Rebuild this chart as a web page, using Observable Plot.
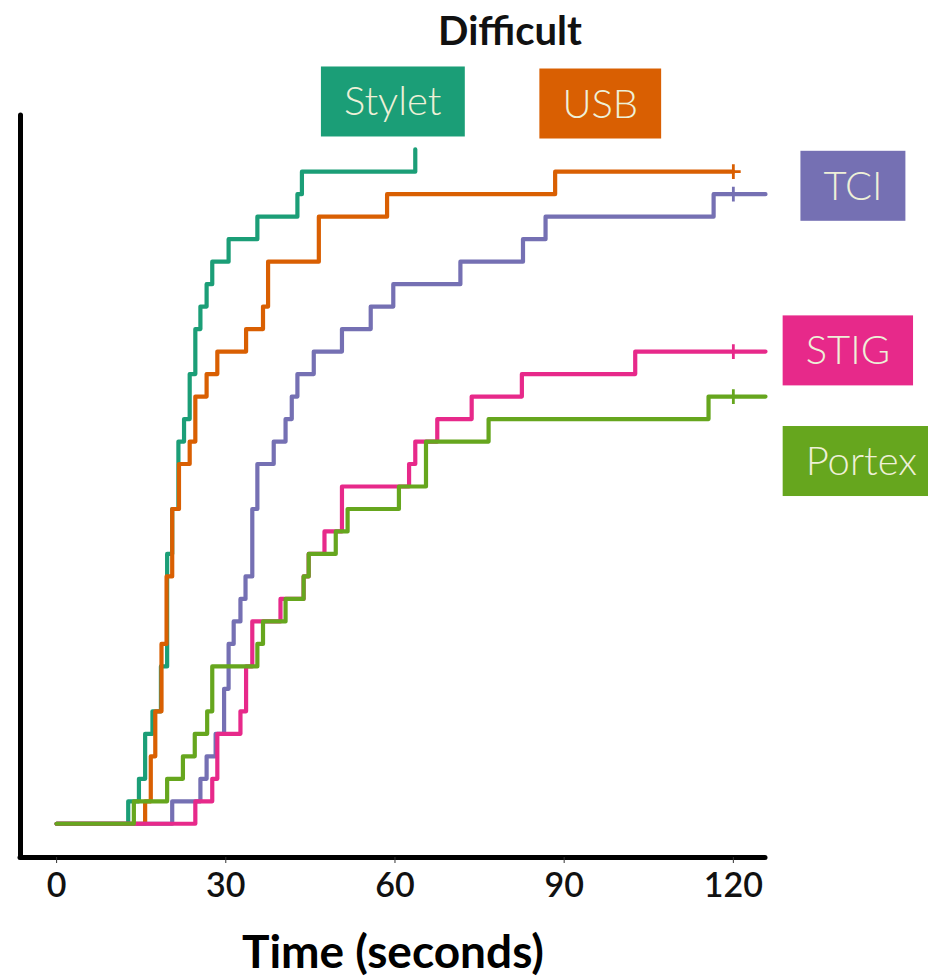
<!DOCTYPE html>
<html><head><meta charset="utf-8">
<script src="https://cdn.jsdelivr.net/npm/d3@7"></script>
<script src="https://cdn.jsdelivr.net/npm/@observablehq/plot@0.6"></script>
<style>body{margin:0;background:#fff;} #chart{width:928px;height:977px;overflow:hidden;}</style>
</head><body><div id="chart"></div>
<script>
// ---- data ----
const N = 30; // subjects per device
const seriesNames = ["Stylet", "USB", "TCI", "STIG", "Portex"];
const seriesColors = ["#1b9e77", "#d95f02", "#7570b3", "#e7298a", "#66a61e"];

const styletTime  = [0, 12.7, 14.6, 15.7, 17.0, 18.5, 19.6, 20.5, 21.6, 22.6, 23.6, 24.6, 25.5, 26.6, 27.6, 30.5, 35.6, 42.7, 43.5, 63.6];
const styletCount = [0, 1, 2, 4, 5, 7, 12, 14, 17, 18, 20, 22, 23, 24, 25, 26, 27, 28, 29, 30];

const usbTime  = [0, 15.7, 16.7, 17.5, 18.6, 19.5, 20.5, 21.7, 23.6, 24.6, 26.6, 28.5, 33.6, 36.6, 37.5, 46.5, 58.6, 88.4, 120];
const usbCount = [0, 1, 3, 5, 8, 11, 14, 16, 17, 19, 20, 21, 22, 23, 25, 27, 28, 29, 29];

const tciTime  = [0, 20.5, 25.5, 26.6, 28.2, 29.7, 30.5, 31.4, 32.6, 33.5, 34.7, 35.6, 38.5, 40.6, 41.7, 42.7, 45.6, 50.6, 55.7, 59.7, 71.6, 82.7, 86.7, 116.5, 125.7];
const tciCount = [0, 1, 2, 3, 4, 6, 8, 9, 10, 11, 14, 16, 17, 18, 19, 20, 21, 22, 23, 24, 25, 26, 27, 28, 28];

const stigTime  = [0, 24.6, 27.6, 28.5, 32.6, 33.6, 34.7, 39.7, 43.8, 44.7, 47.5, 50.6, 62.5, 63.6, 67.5, 73.6, 82.5, 102.6, 125.7];
const stigCount = [0, 1, 2, 4, 5, 7, 9, 10, 11, 12, 13, 15, 16, 17, 18, 19, 20, 21, 21];

const portexTime  = [0, 13.7, 19.6, 22.4, 24.5, 26.7, 27.6, 35.6, 36.6, 40.6, 43.8, 44.7, 49.5, 51.6, 60.7, 65.5, 76.6, 115.6, 125.7];
const portexCount = [0, 1, 2, 3, 4, 5, 7, 8, 9, 10, 11, 12, 13, 14, 15, 17, 18, 19, 19];

const censorSeries = ["USB", "TCI", "STIG", "Portex"];
const censorTime   = [120, 120, 120, 120];
const censorCount  = [29, 28, 21, 19];

const xTicks = [0, 30, 60, 90, 120];
const titleText = "Difficult";
const xLabelText = "Time (seconds)";

// label placement (layout, data units)
const labelX = [59.6, 96.4, 141.2, 140.3, 142.7];
const labelY = [1.069, 1.066, 0.944, 0.700, 0.536];

// ---- build tables ----
const times = [styletTime, usbTime, tciTime, stigTime, portexTime];
const counts = [styletCount, usbCount, tciCount, stigCount, portexCount];
const rows = [];
seriesNames.forEach((s, i) => {
  times[i].forEach((t, j) => rows.push({series: s, t, p: counts[i][j] / N}));
});
const censorRows = censorSeries.map((s, i) => ({series: s, t: censorTime[i], p: censorCount[i] / N}));
const labelRows = seriesNames.map((s, i) => ({series: s, x: labelX[i], y: labelY[i], color: seriesColors[i]}));

const xDomain = [-6.4, 125.7];
const yDomain = [-0.05, 1.05];

const plot = Plot.plot({
  width: 928, height: 977,
  marginLeft: 20, marginRight: 163, marginTop: 115, marginBottom: 120,
  style: {fontFamily: "Lato, 'Open Sans', sans-serif", background: "#fff", color: "#111"},
  x: {domain: xDomain, label: null},
  y: {domain: yDomain, axis: null},
  color: {domain: seriesNames, range: seriesColors},
  marks: [
    Plot.line(rows, {x: "t", y: "p", z: "series", stroke: "series", curve: "step-after", strokeWidth: 4.2}),
    Plot.dot(censorRows, {x: "t", y: "p", stroke: "series", symbol: "plus", r: 4.8, strokeWidth: 2.8}),
    Plot.ruleX([xDomain[0]], {strokeWidth: 5, strokeLinecap: "round", stroke: "#000"}),
    Plot.ruleY([yDomain[0]], {strokeWidth: 5, strokeLinecap: "round", stroke: "#000"}),
    Plot.axisX({ticks: xTicks, tickSize: 6, tickPadding: 9, fontSize: 34, fontWeight: 600, label: null, stroke: "#333"}),
    Plot.text(labelRows, {x: "x", y: "y", text: "series", fill: "#eef0d8", fontSize: 40, fontWeight: 300}),
    Plot.text([titleText], {text: d => d, frameAnchor: "top", dx: 117, dy: -99, fontSize: 40, fontWeight: "bold", fill: "#111"}),
    Plot.text([xLabelText], {text: d => d, frameAnchor: "bottom", dy: 110, fontSize: 46, fontWeight: "bold", fill: "#000"})
  ]
});
document.getElementById("chart").append(plot);

// boxes behind series labels
const colorOf = new Map(labelRows.map(d => [d.series, d.color]));
plot.querySelectorAll("text").forEach(t => {
  const name = t.textContent;
  if (!colorOf.has(name) || t.closest('g[aria-label="x-axis tick label"]')) return;
  const b = t.getBBox();
  const cy = b.y + b.height / 2 + 1;
  const r = document.createElementNS("http://www.w3.org/2000/svg", "rect");
  r.setAttribute("x", b.x - 23);
  r.setAttribute("width", b.width + 46);
  r.setAttribute("y", cy - 35);
  r.setAttribute("height", 70);
  r.setAttribute("fill", colorOf.get(name));
  const tr = t.getAttribute("transform");
  if (tr) r.setAttribute("transform", tr);
  t.parentNode.insertBefore(r, t);
});
</script>
</body></html>
